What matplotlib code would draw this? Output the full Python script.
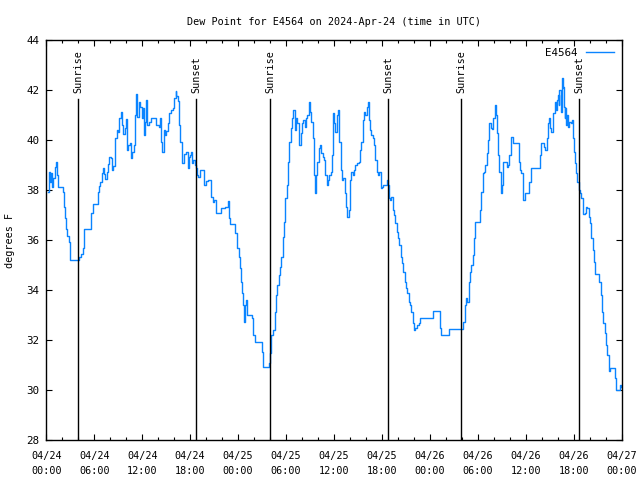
import matplotlib
matplotlib.use('Agg')
import matplotlib.pyplot as plt
from matplotlib.ticker import MultipleLocator


# hours since 2024-04-24 00:00 UTC
hours = [
    0.21, 0.29, 0.42, 0.54, 0.71, 0.88, 1.08, 1.25, 1.38, 1.50, 1.88, 2.04, 2.21, 2.33,
    2.46, 2.63, 2.79, 2.92, 3.00, 3.88, 4.04, 4.29, 4.54, 4.71, 5.46, 5.63, 5.79, 6.29,
    6.42, 6.54, 6.75, 6.92, 7.04, 7.21, 7.38, 7.54, 7.67, 7.83, 8.04, 8.21, 8.38, 8.58,
    8.79, 8.96, 9.13, 9.29, 9.46, 9.63, 9.79, 9.96, 10.04, 10.25, 10.46, 10.58, 10.75,
    10.92, 11.04, 11.21, 11.38, 11.54, 11.75, 11.92, 12.08, 12.21, 12.33, 12.46, 12.63,
    12.83, 13.04, 13.46, 13.71, 14.04, 14.21, 14.38, 14.54, 14.71, 14.88, 15.04, 15.21,
    15.38, 15.58, 15.88, 16.04, 16.17, 16.29, 16.46, 16.63, 16.79, 16.92, 17.04, 17.21,
    17.54, 17.71, 17.88,
    17.94, 18.06, 18.23, 18.40, 18.56, 18.73, 18.81, 18.98, 19.23, 19.57, 19.73, 19.98,
    20.23, 20.48, 20.65, 20.82, 20.98, 21.23, 21.73, 21.90, 22.40, 22.74, 22.90, 22.99,
    23.49, 23.65, 23.82, 24.07, 24.20, 24.32, 24.49, 24.61, 24.74, 24.86, 24.99, 25.16,
    25.41, 25.74, 25.91, 26.07, 26.82, 26.99, 27.16, 27.66, 27.83, 28.00, 28.08, 28.16,
    28.41, 28.58, 28.74, 28.91, 29.08, 29.24, 29.41, 29.58, 29.74, 29.91, 30.08, 30.25,
    30.41, 30.58, 30.75, 30.91, 31.08, 31.25, 31.41, 31.58, 31.67, 31.83, 32.00, 32.16,
    32.33, 32.50, 32.66, 32.83, 33.00, 33.17, 33.33, 33.50, 33.67, 33.75, 33.92, 34.08,
    34.25, 34.42, 34.58, 34.75, 34.92, 35.09, 35.25, 35.42, 35.59, 35.75, 35.92,
    36.01, 36.18, 36.34, 36.51, 36.68, 36.84, 37.01, 37.18, 37.35, 37.51, 37.68, 37.85,
    38.01, 38.18, 38.35, 38.51, 38.68, 38.93, 39.10, 39.26, 39.43, 39.60, 39.76, 39.93,
    40.10, 40.22, 40.35, 40.52, 40.68, 40.85, 41.02, 41.18, 41.35, 41.51, 41.68, 41.85,
    42.01, 42.18, 42.43, 42.60, 42.77, 42.85, 43.01, 43.18, 43.35, 43.52, 43.69, 43.85,
    44.02, 44.19, 44.35, 44.52, 44.69, 44.85, 45.02, 45.19, 45.36, 45.52, 45.69, 45.86,
    46.02, 46.19, 46.36, 46.61, 46.77, 48.19, 48.36, 49.11, 49.28, 49.44, 50.11, 50.36,
    52.03, 52.20, 52.36, 52.53, 52.70, 52.86, 53.03, 53.20, 53.37, 53.53, 53.70,
    54.20, 54.28, 54.45, 54.61, 54.78, 54.95, 55.11, 55.28, 55.36, 55.45, 55.62, 55.78,
    55.95, 56.12, 56.28, 56.45, 56.53, 56.70, 56.87, 56.95, 57.03, 57.20, 57.45, 57.62,
    57.78, 57.95, 58.12, 58.20, 58.37, 58.95, 59.12, 59.29, 59.45, 59.62, 59.70, 59.87,
    59.95, 60.29, 60.45, 60.62, 61.62, 61.79, 61.96, 62.12, 62.29, 62.46, 62.62, 62.79,
    62.87, 63.04, 63.21, 63.37, 63.46, 63.62, 63.79, 63.96, 64.04, 64.13, 64.21, 64.38,
    64.46, 64.54, 64.63, 64.71, 64.79, 64.88, 64.96, 65.04, 65.13, 65.29, 65.46, 65.63,
    65.80, 65.88, 66.05, 66.21, 66.30, 66.46, 66.63, 66.80, 66.96, 67.13, 67.21, 67.46,
    67.55, 67.71, 67.88, 68.05, 68.21, 68.38, 68.55, 68.71, 69.05, 69.21, 69.38, 69.55,
    69.72, 69.88, 70.05, 70.22, 70.38, 70.47, 70.55, 71.05, 71.22, 71.30, 71.63, 71.80,
    71.96,
]

dewpoint = [
    37.93, 38.73, 38.33, 38.67, 38.13, 38.47, 38.93, 39.13, 38.60, 38.13, 38.13, 37.93, 37.33, 36.89,
    36.44, 36.17, 35.91, 35.53, 35.20, 35.20, 35.33, 35.43, 35.67, 36.43, 36.43, 37.07, 37.44, 37.44,
    37.93, 38.16, 38.33, 38.69, 38.87, 38.63, 38.44, 38.73, 39.03, 39.33, 39.27, 38.80, 38.97, 40.07,
    40.40, 40.31, 40.87, 41.13, 40.60, 40.23, 40.47, 40.84, 39.60, 39.80, 39.87, 39.27, 39.51,
    39.80, 41.00, 41.83, 40.93, 41.53, 41.33, 40.89, 41.27, 40.20, 40.73, 41.60, 40.60,
    40.73, 40.87, 40.87, 40.60, 40.53, 40.87, 39.93, 39.53, 40.40, 40.20, 40.36, 40.67,
    41.07, 41.20, 41.27, 41.67, 41.96, 41.77, 41.56, 40.60, 39.93, 39.40, 39.07, 39.43,
    39.51, 38.87, 39.33,
    39.40, 39.53, 39.07, 39.20, 39.00, 38.87, 38.60, 38.53, 38.80, 38.80, 38.20, 38.36,
    38.40, 38.40, 37.73, 37.53, 37.60, 37.07, 37.07, 37.29, 37.33, 37.56, 36.87, 36.63,
    36.63, 36.27, 35.67, 35.33, 34.87, 34.33, 33.87, 33.40, 32.73, 33.40, 33.60, 33.00,
    33.00, 32.87, 32.20, 31.93, 31.93, 31.53, 30.93, 30.93, 31.07, 31.47, 31.93, 32.20,
    32.40, 33.13, 33.80, 34.20, 34.60, 34.93, 35.33, 36.13, 36.73, 37.67, 38.20, 39.13,
    39.93, 40.47, 40.87, 41.20, 40.40, 40.87, 40.67, 40.33, 39.80, 40.27, 40.67, 40.80,
    40.53, 40.87, 41.00, 41.53, 41.13, 40.73, 40.07, 38.60, 37.87, 38.60, 39.13, 39.67,
    39.80, 39.47, 39.33, 39.20, 38.60, 38.20, 38.40, 38.60, 38.73, 39.40, 41.07,
    40.67, 40.33, 41.00, 41.20, 39.93, 38.80, 38.40, 38.47, 37.87, 37.33, 36.93, 37.20,
    38.40, 38.73, 38.60, 38.80, 39.00, 39.07, 39.13, 39.60, 39.93, 40.80, 41.13, 41.00,
    41.33, 41.53, 40.80, 40.40, 40.20, 40.07, 39.80, 39.20, 38.73, 38.60, 38.73, 38.07,
    38.13, 38.20, 38.20, 38.40, 38.20, 37.67, 37.60, 37.73, 37.20, 37.00, 36.67, 36.33,
    36.07, 35.80, 35.33, 35.07, 34.73, 34.33, 34.07, 33.87, 33.53, 33.40, 33.11, 32.67,
    32.40, 32.47, 32.60, 32.67, 32.89, 32.89, 33.16, 33.16, 32.47, 32.20, 32.20, 32.44,
    32.44, 32.73, 33.40, 33.67, 33.53, 34.33, 34.73, 35.00, 35.40, 36.07, 36.73,
    36.73, 37.20, 37.93, 38.67, 38.73, 39.00, 39.47, 40.00, 40.47, 40.67, 40.47, 40.44,
    40.87, 41.40, 41.00, 40.27, 39.40, 38.73, 38.07, 37.87, 38.20, 39.13, 39.13, 38.93,
    39.00, 39.40, 39.93, 40.13, 39.87, 39.87, 39.13, 38.80, 38.67, 38.33, 37.60, 37.80,
    37.87, 37.87, 38.33, 38.87, 38.87, 39.40, 39.87, 39.87, 39.73, 39.60, 40.07, 40.67,
    40.87, 40.47, 40.33, 40.53, 41.07, 41.53, 41.20, 41.60, 41.80, 41.40, 42.00, 41.53,
    41.13, 42.47, 42.07, 42.13, 41.33, 40.87, 41.27, 40.60, 41.00, 40.53, 40.73, 40.67,
    40.80, 40.07, 39.53, 39.07, 38.67, 38.33, 38.00, 37.87, 37.67, 37.27, 37.03, 37.07,
    37.33, 37.27, 36.93, 36.67, 36.07, 35.60, 35.13, 34.63, 34.63, 34.33, 33.80, 33.13,
    32.67, 32.27, 31.80, 31.40, 30.87, 30.75, 30.89, 30.89, 30.47, 30.00, 30.00, 30.20,
    30.13,
]

# sunrise / sunset (hours since start)
sun_times = [4.00, 18.77, 28.03, 42.80, 51.95, 66.70]
sun_labels = ['Sunrise', 'Sunset', 'Sunrise', 'Sunset', 'Sunrise', 'Sunset']

tick_hours = list(range(0, 73, 6))
tick_labels = ['04/24\n00:00', '04/24\n06:00', '04/24\n12:00', '04/24\n18:00',
               '04/25\n00:00', '04/25\n06:00', '04/25\n12:00', '04/25\n18:00',
               '04/26\n00:00', '04/26\n06:00', '04/26\n12:00', '04/26\n18:00',
               '04/27\n00:00']

plt.rcParams['font.family'] = ['DejaVu Sans Mono']
fs = 7.3

fig = plt.figure(figsize=(6.4, 4.8), dpi=100)
ax = fig.add_axes([46.3 / 640, 40 / 480, 575.4 / 640, 400 / 480])

ax.plot(hours, dewpoint, color='#0a84ff', lw=1.0, drawstyle='steps-post', label='E4564')

for t, lab in zip(sun_times, sun_labels):
    ax.plot([t, t], [28, 41.64], color='black', lw=1.0)
    ax.text(t, 41.9, lab, rotation=90, ha='center', va='bottom', fontsize=fs)

ax.set_xlim(0, 72)
ax.set_ylim(28, 44)
ax.set_xticks(tick_hours)
ax.set_xticklabels(tick_labels, fontsize=fs, linespacing=1.6)
ax.xaxis.set_minor_locator(MultipleLocator(2))
ax.set_yticks(range(28, 45, 2))
ax.tick_params(axis='y', labelsize=fs + 0.5)
ax.tick_params(which='major', direction='in', length=4, width=0.8, top=True, right=True, pad=5)
ax.tick_params(which='minor', direction='in', length=2, width=0.8, top=True, right=True)
ax.tick_params(axis='x', which='major', pad=8)
for sp in ax.spines.values():
    sp.set_linewidth(1.0)

ax.set_ylabel('degrees F', fontsize=fs)
ax.yaxis.set_label_coords(-0.055, 0.5)
ax.set_title('Dew Point for E4564 on 2024-Apr-24 (time in UTC)', fontsize=fs, pad=11)

leg = ax.legend(loc='upper right', frameon=False, fontsize=fs + 0.5, markerfirst=False,
                handlelength=2.6, borderaxespad=0.3)

fig.savefig('out.png', dpi=100)
